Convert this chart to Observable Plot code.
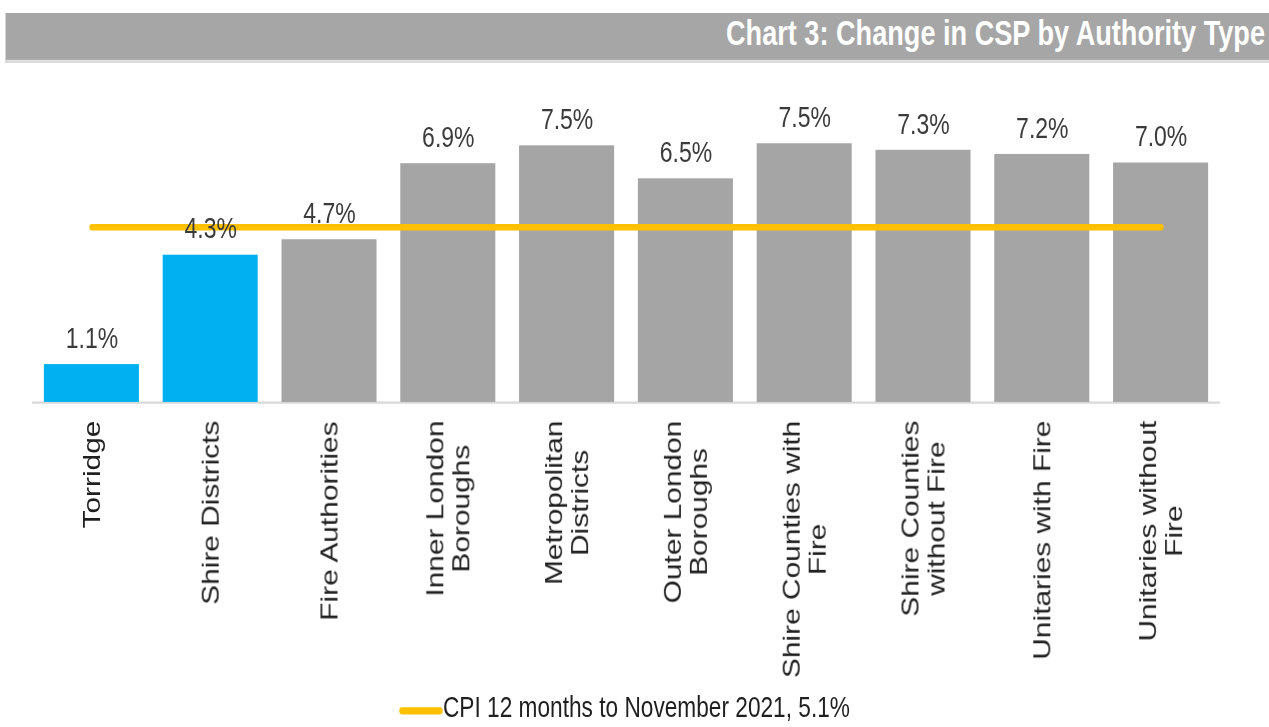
<!DOCTYPE html>
<html>
<head>
<meta charset="utf-8">
<script src="https://cdn.jsdelivr.net/npm/d3@7"></script>
<script src="https://cdn.jsdelivr.net/npm/@observablehq/plot@0.6"></script>
<style>
  html, body { margin: 0; padding: 0; background: #ffffff; overflow: hidden; }
  #stage {
    position: absolute; left: 0; top: 0; width: 1269px; height: 559.2px;
    transform: scaleY(1.3); transform-origin: 0 0;
    font-family: "Liberation Sans", Arial, sans-serif;
  }
  #titlebar {
    position: absolute; left: 5px; top: 9.8px; width: 1264px; height: 35.8px;
    background: #a6a6a6; border-bottom: 2px solid #dcdcdc; border-left: 1px solid #d6d6d6;
  }
  #titlebar svg { position: absolute; left: 0; top: 0; }
  #chart { position: absolute; left: 0; top: 48px; }
  #legend { position: absolute; left: 0; top: 528px; }
</style>
</head>
<body>
<div id="stage">
  <div id="titlebar"></div>
  <div id="chart"></div>
  <div id="legend"></div>
</div>
<script>
// ---- data ----
const titleText = "Chart 3: Change in CSP by Authority Type";
const categories = [
  "Torridge", "Shire Districts", "Fire Authorities", "Inner London Boroughs",
  "Metropolitan Districts", "Outer London Boroughs", "Shire Counties with Fire",
  "Shire Counties without Fire", "Unitaries with Fire", "Unitaries without Fire"
];
const tickLabels = [
  "Torridge", "Shire Districts", "Fire Authorities", "Inner London\nBoroughs",
  "Metropolitan\nDistricts", "Outer London\nBoroughs", "Shire Counties with\nFire",
  "Shire Counties\nwithout Fire", "Unitaries with Fire", "Unitaries without\nFire"
];
const changes = [1.10, 4.28, 4.73, 6.94, 7.46, 6.50, 7.52, 7.33, 7.21, 6.96];
const highlighted = ["Torridge", "Shire Districts"];
const cpiValue = 5.1;
const cpiLabel = "CPI 12 months to November 2021, 5.1%";

// ---- styles ----
const BLUE = "#00b0f0", GREY = "#a5a5a5", GOLD = "#ffc000";
const FONT = '"Liberation Sans", Arial, sans-serif';
const labelSize = 23, tickSize = 23, tickGap = 13.8;

const rows = categories.map((c, i) => ({name: c, value: changes[i]}));

// Title
const ns = "http://www.w3.org/2000/svg";
{
  const svg = document.createElementNS(ns, "svg");
  svg.setAttribute("width", 1264); svg.setAttribute("height", 36);
  const t = document.createElementNS(ns, "text");
  t.setAttribute("x", 1259); t.setAttribute("y", 24.8);
  t.setAttribute("text-anchor", "end");
  t.setAttribute("font-family", FONT);
  t.setAttribute("font-weight", "bold");
  t.setAttribute("font-size", 27);
  t.setAttribute("fill", "#ffffff");
  t.setAttribute("textLength", 539);
  t.setAttribute("lengthAdjust", "spacingAndGlyphs");
  t.textContent = titleText;
  svg.appendChild(t);
  document.getElementById("titlebar").appendChild(svg);
}

// Tick label layout (lines centred within a block whose top sits under the axis)
const ctx = document.createElement("canvas").getContext("2d");
ctx.font = `${tickSize}px "Liberation Sans"`;
const tickMarks = categories.map((c, i) => {
  const lines = tickLabels[i].split("\n");
  const w = d3.max(lines, l => ctx.measureText(l).width);
  return Plot.text([c], {
    x: d => d, frameAnchor: "bottom", text: () => tickLabels[i],
    rotate: -90, textAnchor: "middle", lineAnchor: "middle", lineHeight: 1.1,
    dy: tickGap + w / 2, fontSize: tickSize, fill: "#1f1f1f"
  });
});

const chart = Plot.plot({
  width: 1269,
  height: 478,
  marginLeft: 32,
  marginRight: 49,
  marginTop: 49.5,
  marginBottom: 216.8,
  style: {fontFamily: FONT, background: "transparent", overflow: "visible"},
  x: {type: "band", domain: categories, paddingInner: 0.2, paddingOuter: 0.1, round: false, axis: null},
  y: {domain: [0, 8], axis: null},
  marks: [
    Plot.ruleY([0], {stroke: "#d9d9d9", strokeWidth: 1.6}),
    Plot.barY(rows, {
      x: "name", y: "value",
      fill: d => highlighted.includes(d.name) ? BLUE : GREY
    }),
    Plot.lineY(rows, {
      x: "name", y: () => cpiValue,
      stroke: GOLD, strokeWidth: 5, strokeLinecap: "round"
    }),
    Plot.text(rows, {
      x: "name", y: "value", text: d => d.value.toFixed(1) + "%",
      lineAnchor: "bottom", dy: -13, fontSize: labelSize, fill: "#3b3b3b"
    }),
    ...tickMarks
  ]
});
document.getElementById("chart").appendChild(chart);

// Legend
{
  const svg = document.createElementNS(ns, "svg");
  svg.setAttribute("width", 1269); svg.setAttribute("height", 30);
  const l = document.createElementNS(ns, "line");
  l.setAttribute("x1", 402); l.setAttribute("x2", 440);
  l.setAttribute("y1", 18.8); l.setAttribute("y2", 18.8);
  l.setAttribute("stroke", GOLD); l.setAttribute("stroke-width", 5.5);
  l.setAttribute("stroke-linecap", "round");
  svg.appendChild(l);
  const t = document.createElementNS(ns, "text");
  t.setAttribute("x", 443); t.setAttribute("y", 23.5);
  t.setAttribute("font-family", FONT);
  t.setAttribute("font-size", 22);
  t.setAttribute("fill", "#1f1f1f");
  t.setAttribute("textLength", 407);
  t.setAttribute("lengthAdjust", "spacingAndGlyphs");
  t.textContent = cpiLabel;
  svg.appendChild(t);
  document.getElementById("legend").appendChild(svg);
}
</script>
</body>
</html>
